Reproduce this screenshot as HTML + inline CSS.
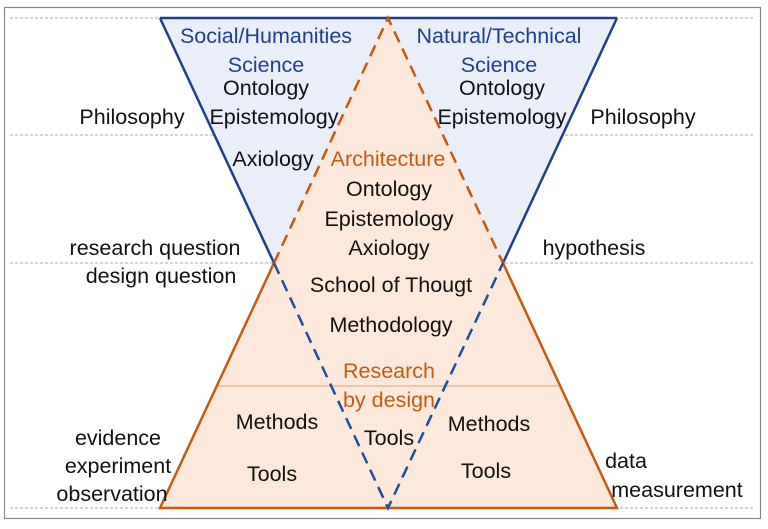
<!DOCTYPE html>
<html><head><style>
html,body{margin:0;padding:0;background:#fff}
svg{display:block}
text{font-family:"Liberation Sans",sans-serif;font-size:21.5px;fill:#111}
.b{fill:#1f3f8f}.o{fill:#c55a11}
</style></head><body>
<svg width="768" height="529" viewBox="0 0 768 529">
<rect x="4.5" y="7.5" width="756" height="511" fill="#fff" stroke="#888" stroke-width="1.2"/>
<g stroke="#aaa" stroke-width="1" stroke-dasharray="3,2">
<line x1="10" y1="18" x2="755" y2="18"/>
<line x1="10" y1="135" x2="755" y2="135"/>
<line x1="10" y1="263" x2="755" y2="263"/>
<line x1="10" y1="508" x2="755" y2="508"/>
</g>
<polygon points="160,18 617,18 503,263 274,263" fill="#e9eef8"/>
<polygon points="388,18 503,263 617,508 160,508 274,263" fill="#fde9dc"/>
<line x1="218" y1="386" x2="558" y2="386" stroke="#e0a070" stroke-width="1"/>
<polyline points="160,18 274,263" fill="none" stroke="#1f3f8f" stroke-width="2.5"/>
<polyline points="617,18 503,263" fill="none" stroke="#1f3f8f" stroke-width="2.5"/>
<line x1="160" y1="18" x2="617" y2="18" stroke="#1f3f8f" stroke-width="2.5"/>
<g stroke="#c55a11" stroke-width="2.5" fill="none">
<polyline points="274,263 160,508 617,508 503,263"/>
<polyline points="274,263 388,18 503,263" stroke-dasharray="12,7"/>
</g>
<polyline points="274,263 388,508 503,263" fill="none" stroke="#1f4f9f" stroke-width="2.5" stroke-dasharray="12,7"/>
<g text-anchor="middle">
<text x="266" y="43" class="b">Social/Humanities</text>
<text x="266" y="72" class="b">Science</text>
<text x="266" y="95">Ontology</text>
<text x="274" y="124">Epistemology</text>
<text x="499" y="43" class="b">Natural/Technical</text>
<text x="499" y="72" class="b">Science</text>
<text x="502" y="95">Ontology</text>
<text x="502" y="124">Epistemology</text>
<text x="132" y="124">Philosophy</text>
<text x="643" y="124">Philosophy</text>
<text x="273" y="166">Axiology</text>
<text x="388" y="166" class="o">Architecture</text>
<text x="389" y="196">Ontology</text>
<text x="389" y="226">Epistemology</text>
<text x="389" y="255">Axiology</text>
<text x="155" y="255">research question</text>
<text x="161" y="283">design question</text>
<text x="594" y="255">hypothesis</text>
<text x="391" y="292">School of Thougt</text>
<text x="391" y="332">Methodology</text>
<text x="389" y="378" class="o">Research</text>
<text x="389" y="407" class="o">by design</text>
<text x="277" y="429">Methods</text>
<text x="389" y="445">Tools</text>
<text x="489" y="431">Methods</text>
<text x="272" y="481">Tools</text>
<text x="486" y="478">Tools</text>
<text x="118" y="445">evidence</text>
<text x="118" y="473">experiment</text>
<text x="112" y="501">observation</text>
<text x="626" y="468">data</text>
<text x="677" y="497">measurement</text>
</g>
</svg>
</body></html>
